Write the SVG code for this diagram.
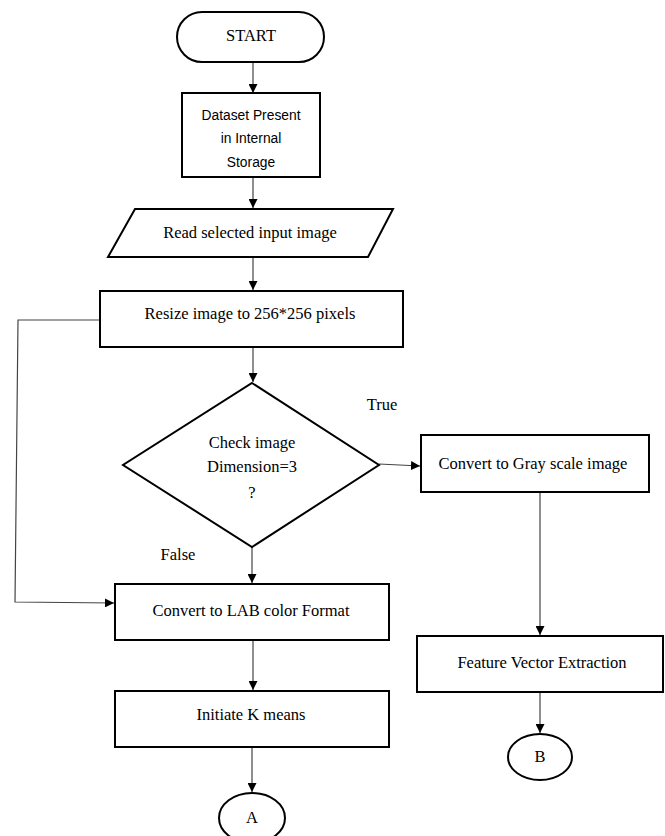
<svg xmlns="http://www.w3.org/2000/svg" width="665" height="836" viewBox="0 0 665 836">
<style>
.box{fill:#fff;stroke:#000;stroke-width:2}
.t{font-family:"Liberation Serif","Times New Roman",serif;font-size:16.5px;fill:#000;text-anchor:middle}
.s{font-family:"Liberation Sans",Arial,sans-serif;font-size:13.8px;fill:#000;text-anchor:middle}
.c{fill:none;stroke:#444;stroke-width:1.2}
</style>
<defs>
<marker id="ah" viewBox="0 0 10 10" refX="10" refY="5" markerWidth="9" markerHeight="9" markerUnits="userSpaceOnUse" orient="auto">
<path d="M0,0 L10,5 L0,10 z" fill="#000"/>
</marker>
</defs>
<rect width="665" height="836" fill="#fff"/>
<g id="connectors">
<line class="c" x1="253" y1="62" x2="253" y2="93" marker-end="url(#ah)"/>
<line class="c" x1="253" y1="177" x2="253" y2="208" marker-end="url(#ah)"/>
<line class="c" x1="253" y1="257" x2="253" y2="290" marker-end="url(#ah)"/>
<line class="c" x1="253" y1="347" x2="253" y2="382" marker-end="url(#ah)"/>
<line class="c" x1="252" y1="547" x2="252" y2="583" marker-end="url(#ah)"/>
<polyline class="c" points="100,320 18,320 15,602 114,603" marker-end="url(#ah)"/>
<line class="c" x1="379" y1="464" x2="420" y2="466" marker-end="url(#ah)"/>
<line class="c" x1="540" y1="492" x2="540" y2="635" marker-end="url(#ah)"/>
<line class="c" x1="253" y1="640" x2="253" y2="690" marker-end="url(#ah)"/>
<line class="c" x1="540" y1="692" x2="540" y2="733" marker-end="url(#ah)"/>
<line class="c" x1="252" y1="747" x2="252" y2="792" marker-end="url(#ah)"/>
</g>
<g id="start">
<rect class="box" x="177" y="12" width="147" height="50" rx="25" ry="25"/>
<text class="t" x="251" y="41">START</text>
</g>
<g id="dataset">
<rect class="box" x="182" y="93" width="138" height="84"/>
<text class="s" x="251" y="120">Dataset Present</text>
<text class="s" x="251" y="143">in Internal</text>
<text class="s" x="251" y="167">Storage</text>
</g>
<g id="read">
<polygon class="box" points="135,209 393,209 368,257 108,257"/>
<text class="t" x="250" y="238">Read selected input image</text>
</g>
<g id="resize">
<rect class="box" x="100" y="291" width="303" height="56"/>
<text class="t" x="250" y="319">Resize image to 256*256 pixels</text>
</g>
<g id="check">
<polygon class="box" points="252,383 379,465 252,547 123,465"/>
<text class="t" x="252" y="448">Check image</text>
<text class="t" x="252" y="472">Dimension=3</text>
<text class="t" x="252" y="498">?</text>
</g>
<g id="labels">
<text class="t" x="382" y="410">True</text>
<text class="t" x="178" y="560">False</text>
</g>
<g id="gray">
<rect class="box" x="421" y="435" width="228" height="57"/>
<text class="t" x="533" y="469">Convert to Gray scale image</text>
</g>
<g id="lab">
<rect class="box" x="115" y="584" width="274" height="56"/>
<text class="t" x="251" y="616">Convert to LAB color Format</text>
</g>
<g id="feature">
<rect class="box" x="417" y="636" width="246" height="56"/>
<text class="t" x="542" y="668">Feature Vector Extraction</text>
</g>
<g id="kmeans">
<rect class="box" x="115" y="691" width="274" height="56"/>
<text class="t" x="251" y="720">Initiate K means</text>
</g>
<g id="B">
<ellipse class="box" cx="540" cy="757" rx="32" ry="23"/>
<text class="t" x="540" y="762">B</text>
</g>
<g id="A">
<ellipse class="box" cx="252" cy="818" rx="33" ry="25"/>
<text class="t" x="252" y="823">A</text>
</g>
</svg>
